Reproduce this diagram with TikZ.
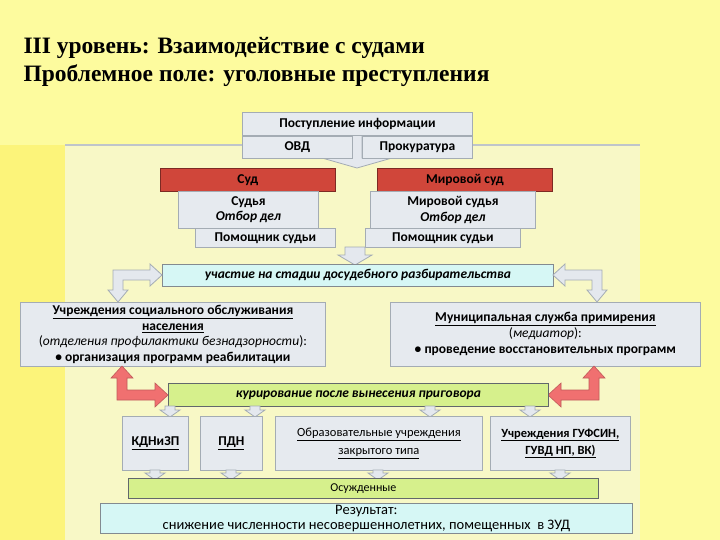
\documentclass[tikz,border=0pt]{standalone}
\usepackage{fontspec}
\setmainfont{Carlito}
\newfontfamily\ttl{Liberation Serif}
\definecolor{bgY}{HTML}{FDFB9E}
\definecolor{stY}{HTML}{FCF47A}
\definecolor{inY}{HTML}{F8F8C6}
\definecolor{boxF}{HTML}{E6EAEF}
\definecolor{boxD}{HTML}{A4ACB4}
\definecolor{redF}{HTML}{D0463A}
\definecolor{cyF}{HTML}{D6F7F5}
\definecolor{grF}{HTML}{D6F08C}
\definecolor{arrF}{HTML}{E4E8EE}
\definecolor{redA}{HTML}{F07070}
\tikzset{
 bx/.style={draw=boxD,fill=boxF,line width=0.8pt,inner sep=1pt,align=center,font=\bfseries\fontsize{13.5}{15.5}\selectfont},
 arr/.style={draw=boxD,fill=arrF,line width=0.8pt},
 rarr/.style={draw=redA!80!black,fill=redA,line width=0.6pt}
}
\newcommand\darr[3]{\filldraw[arr] ({#1-5},#2) -- ({#1+5},#2) -- ({#1+5},{#3-7}) -- ({#1+10},{#3-7}) -- (#1,#3) -- ({#1-10},{#3-7}) -- ({#1-5},{#3-7}) -- cycle;}
\newcommand\rect[5]{\node[bx,#5,minimum width={#3-#1},minimum height={#4-#2},anchor=north west] at (#1,#2)}
\begin{document}
\begin{tikzpicture}[x=1pt,y=-1pt]
\useasboundingbox (0,0) rectangle (720,540);
\fill[bgY] (0,0) rectangle (720,540);
\fill[stY] (0,145) rectangle (65,540);
\fill[inY] (65,145) rectangle (640,540);
\draw[boxD!70,line width=2pt] (65,145) -- (640,145);
\node[anchor=west,font=\ttl\bfseries\fontsize{23.5}{26}\selectfont] (t1) at (20,48) {III уровень: Взаимодействие с судами};
\node[anchor=west,font=\ttl\bfseries\fontsize{23.5}{26}\selectfont] (t2) at (20,76) {Проблемное поле: уголовные преступления};
% top
\filldraw[arr] (352,135) -- (362,135) -- (362,158) -- (392,158) -- (357,168) -- (322,158) -- (352,158) -- cycle;
\rect{242}{112}{472}{135}{} (info) {Поступление информации};
\rect{242}{136}{352}{158}{} (ovd) {ОВД};
\rect{362}{136}{472}{158}{} (pr) {Прокуратура};
\rect{160}{168}{335}{191}{fill=redF,draw=redF!60!black} (sud) {Суд};
\rect{377}{168}{552}{191}{fill=redF,draw=redF!60!black} (msud) {Мировой суд};
\rect{178}{191}{318}{228}{} (sj) {Судья\\\itshape Отбор дел};
\rect{370}{191}{535}{228}{} (msj) {Мировой судья\\\itshape Отбор дел};
\rect{195}{228}{335}{247}{} (pom1) {Помощник судьи};
\rect{365}{228}{520}{247}{} (pom2) {Помощник судьи};
\filldraw[arr] (345,247) -- (365,247) -- (365,255) -- (372,255) -- (355,265) -- (338,255) -- (345,255) -- cycle;
\rect{162}{264}{553}{286}{fill=cyF,draw=boxD!80!black,font=\bfseries\itshape\fontsize{13.5}{15}\selectfont} (uch) {участие на стадии досудебного разбирательства};
% elbows
\filldraw[arr] (150,270) -- (150,264) -- (162,275) -- (150,286) -- (150,280) -- (123,280) -- (123,290) -- (128,290) -- (118,302) -- (108,290) -- (113,290) -- (113,270) -- cycle;
\filldraw[arr] (565,270) -- (565,264) -- (553,275) -- (565,286) -- (565,280) -- (592,280) -- (592,290) -- (587,290) -- (597,302) -- (607,290) -- (602,290) -- (602,270) -- cycle;
\rect{20}{302}{325}{366}{font=\bfseries\fontsize{13.5}{15.5}\selectfont} (soc) {\underline{Учреждения социального обслуживания}\\\underline{населения}\\{\mdseries(\itshape отделения профилактики безнадзорности\upshape):}\\\textbullet\ организация программ реабилитации};
\rect{390}{302}{700}{366}{font=\bfseries\fontsize{13.5}{16}\selectfont} (mun) {\underline{Муниципальная служба примирения}\\{\mdseries(\itshape медиатор\upshape):}\\\textbullet\ проведение восстановительных программ};
% red elbows
\filldraw[rarr] (122,366) -- (133,378) -- (127,378) -- (127,390) -- (155,390) -- (155,383) -- (168,395) -- (155,407) -- (155,400) -- (117,400) -- (117,378) -- (111,378) -- cycle;
\filldraw[rarr] (594,366) -- (583,378) -- (589,378) -- (589,390) -- (561,390) -- (561,383) -- (548,395) -- (561,407) -- (561,400) -- (599,400) -- (599,378) -- (605,378) -- cycle;
\rect{168}{383}{548}{406}{fill=grF,draw=boxD!60!black,font=\bfseries\itshape\fontsize{13.5}{15}\selectfont} (kur) {курирование после вынесения приговора};
\darr{170}{406}{417}\darr{255}{406}{417}\darr{430}{406}{417}\darr{530}{406}{417}
\rect{122}{416}{188}{470}{} (kdn) {\underline{КДНиЗП}};
\rect{200}{416}{262}{470}{} (pdn) {\underline{ПДН}};
\rect{275}{416}{482}{470}{font=\fontsize{12.5}{18}\selectfont} (obr) {\underline{Образовательные учреждения}\\\underline{закрытого типа}};
\rect{490}{416}{630}{470}{font=\bfseries\fontsize{12.5}{17}\selectfont} (guf) {\underline{Учреждения ГУФСИН,}\\\underline{ГУВД НП, ВК)}};
\darr{155}{470}{480}\darr{231}{470}{480}\darr{378}{470}{480}\darr{560}{470}{480}
\rect{128}{478}{598}{498}{fill=grF,draw=boxD!60!black,font=\fontsize{12}{13}\selectfont} (osu) {Осужденные};
\rect{100}{503}{632}{533}{fill=cyF,draw=boxD!80!black,font=\fontsize{14.5}{15}\selectfont} (res) {Результат:\\снижение численности несовершеннолетних, помещенных\ \ в ЗУД};
\end{tikzpicture}
\end{document}
